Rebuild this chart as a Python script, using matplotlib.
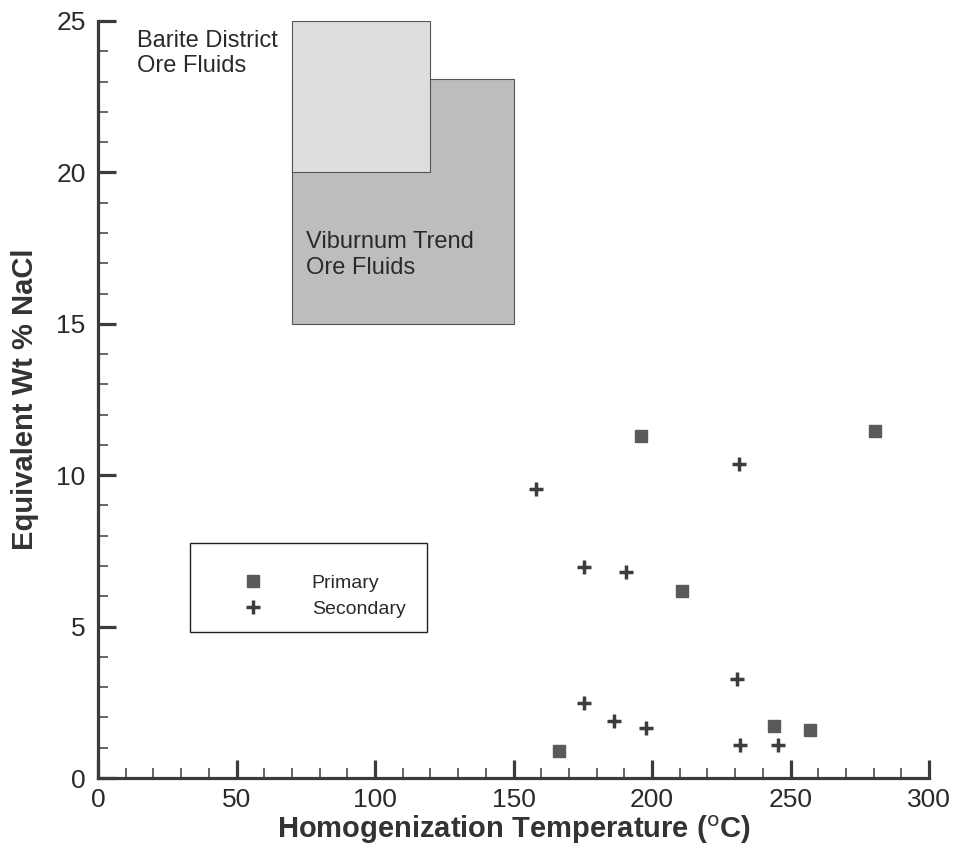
import matplotlib
matplotlib.use("Agg")
import matplotlib.pyplot as plt
from matplotlib.patches import Rectangle
from matplotlib.ticker import MultipleLocator

plt.rcParams['font.family'] = ['Liberation Sans', 'DejaVu Sans']

# Data
primary_t = [195.9, 211.0, 166.6, 244.1, 256.9, 280.6]
primary_s = [11.31, 6.16, 0.90, 1.73, 1.58, 11.47]
secondary_t = [158.0, 231.3, 175.6, 190.6, 230.7, 175.6, 186.3, 198.0, 231.6, 245.6]
secondary_s = [9.56, 10.37, 6.96, 6.81, 3.28, 2.47, 1.89, 1.64, 1.08, 1.08]

# Fluid fields: (t_min, t_max, s_min, s_max)
barite_field = (70, 120, 20, 25)
viburnum_field = (70, 150, 15, 23.1)

xticks = [0, 50, 100, 150, 200, 250, 300]
yticks = [0, 5, 10, 15, 20, 25]

W, H = 956, 844
fig = plt.figure(figsize=(W / 100, H / 100), dpi=100)
ax = fig.add_axes([98 / W, 1 - 778 / H, (929 - 98) / W, (778 - 21) / H])

dark = '#3a3a3a'

# Fields
v = viburnum_field
ax.add_patch(Rectangle((v[0], v[2]), v[1] - v[0], v[3] - v[2],
                       facecolor='#bdbdbd', edgecolor='#555555', lw=0.8, zorder=1))
b = barite_field
ax.add_patch(Rectangle((b[0], b[2]), b[1] - b[0], b[3] - b[2],
                       facecolor='#dedede', edgecolor='#555555', lw=0.8, zorder=2))

ax.text(14, 23.31, 'Barite District\nOre Fluids', ha='left', va='baseline',
        fontsize=17, color='#2a2a2a', linespacing=1.2)
ax.text(75, 16.66, 'Viburnum Trend\nOre Fluids', ha='left', va='baseline',
        fontsize=17, color='#2a2a2a', linespacing=1.2)

# Points
ax.plot(primary_t, primary_s, linestyle='none', marker='s', markersize=8.5,
        color='#5a5a5a', mec='#5a5a5a', zorder=5, label='Primary')
ax.plot(secondary_t, secondary_s, linestyle='none', marker='+', markersize=10,
        mew=2.5, color='#3c3c3c', zorder=5, label='Secondary')

# Legend box
bx0, bx1 = (190 - 98) / (929 - 98), (427 - 98) / (929 - 98)
by0, by1 = (778 - 632) / (778 - 21), (778 - 543) / (778 - 21)
ax.add_patch(Rectangle((bx0, by0), bx1 - bx0, by1 - by0, transform=ax.transAxes,
                       facecolor='white', edgecolor='#222222', lw=1.0, zorder=4))
leg = ax.legend(loc='center left',
                bbox_to_anchor=((234 - 98) / (929 - 98), (778 - 596) / (778 - 21)),
                frameon=False, fontsize=14, handletextpad=2.5, labelspacing=0.4,
                borderpad=0, handlelength=1.0)
for t in leg.get_texts():
    t.set_color('#2a2a2a')
leg.set_zorder(6)

ax.set_xlim(0, 300)
ax.set_ylim(0, 25)
ax.set_xticks(xticks)
ax.set_yticks(yticks)
ax.xaxis.set_minor_locator(MultipleLocator(10))
ax.yaxis.set_minor_locator(MultipleLocator(1))

for s in ['top', 'right']:
    ax.spines[s].set_visible(False)
for s in ['left', 'bottom']:
    ax.spines[s].set_linewidth(2.3)
    ax.spines[s].set_color(dark)

ax.tick_params(which='major', direction='in', length=13, width=2.3, color=dark,
               labelsize=19, labelcolor='#2a2a2a')
ax.tick_params(which='minor', direction='in', length=7, width=1.1, color=dark)
ax.tick_params(axis='x', which='major', pad=7)
ax.tick_params(axis='y', which='major', pad=9)

ax.set_xlabel('Homogenization Temperature ($^{\\mathrm{o}}$C)', fontsize=21,
              fontweight='bold', color='#333333', labelpad=1)
ax.set_ylabel('Equivalent Wt % NaCl', fontsize=21, fontweight='bold',
              color='#333333', labelpad=12)

fig.savefig('out.png', dpi=100)
